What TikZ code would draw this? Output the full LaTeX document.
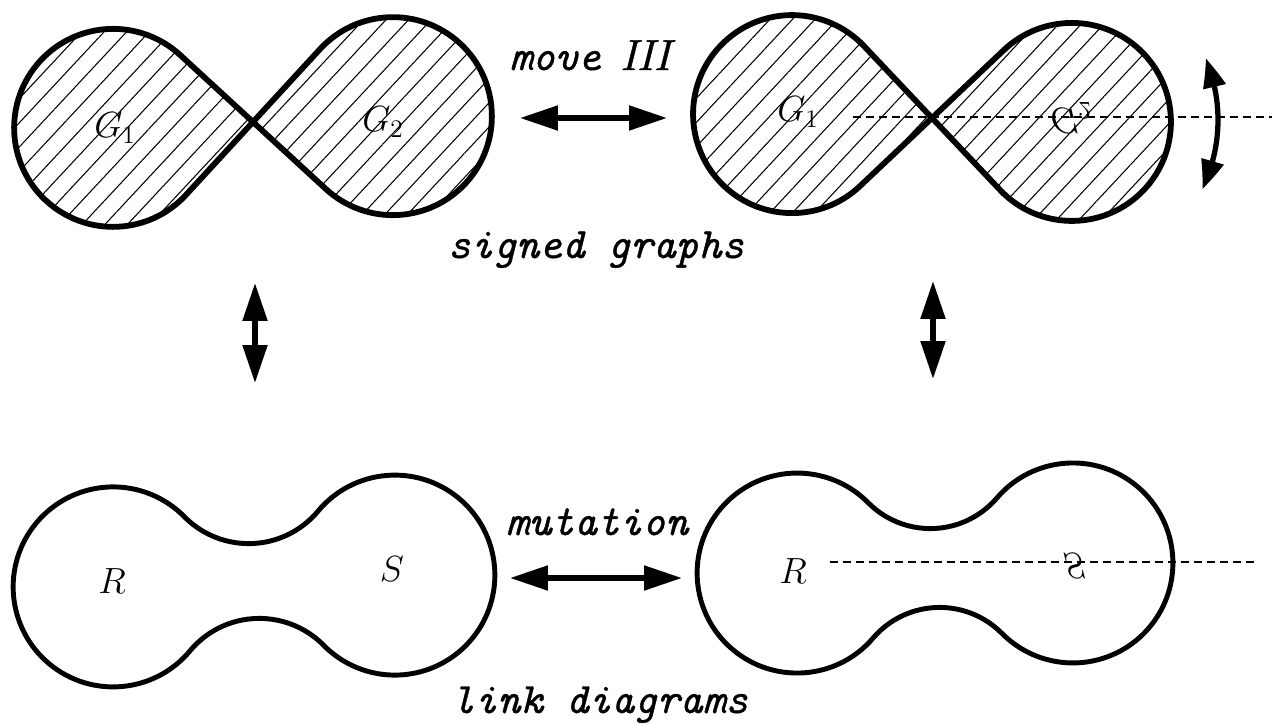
\documentclass[tikz,border=0pt]{standalone}
\usepackage{fontspec}
\usetikzlibrary{arrows.meta,bending,patterns.meta}
\newfontfamily\capfont{lmmono10-italic.otf}[FakeBold=0.9]
\newfontfamily\capromfont{lmroman10-italic.otf}[FakeBold=0.9]
\newcommand{\eightfig}[4]{% crossing x, y, rotation, lobe radius
  \begin{scope}[shift={(#1,#2)},rotate=#3]
    \pgfmathsetmacro{\ek}{#4/sqrt(2)}
    \path[eightline] (-\ek,\ek) arc[start angle=45,end angle=315,radius=#4]
      -- (\ek,\ek) arc[start angle=135,end angle=-135,radius=#4] -- cycle;
  \end{scope}}
\newcommand{\dumbbell}[6]{% centre x, y, rotation, half distance, lobe radius, neck half width
  \begin{scope}[shift={(#1,#2)},rotate=#3]
    \pgfmathsetmacro{\dbrho}{(#4/100*#4+#6/100*#6-#5/100*#5)/(2*(#5-#6))*100}
    \pgfmathsetmacro{\dbh}{\dbrho+#6}
    \pgfmathsetmacro{\dbphi}{atan(\dbh/#4)}
    \draw[linkline] ({#4-#5*cos(\dbphi)},{#5*sin(\dbphi)})
      arc[start angle=180-\dbphi, end angle=-180+\dbphi, radius=#5]
      arc[start angle=\dbphi, end angle=180-\dbphi, radius=\dbrho]
      arc[start angle=-\dbphi, end angle=-360+\dbphi, radius=#5]
      arc[start angle=-180+\dbphi, end angle=-\dbphi, radius=\dbrho] -- cycle;
  \end{scope}}
\begin{document}
\begin{tikzpicture}[x=0.02cm,y=0.02cm,
  lab/.style={font=\fontsize{24.7}{28}\selectfont\capfont, inner sep=0pt, anchor=base},
  mlab/.style={font=\fontsize{20}{24}\selectfont, inner sep=0pt},
  eightline/.style={draw, line width=3.3pt, line join=round,
    pattern={Lines[angle=47,distance=0.33cm,line width=0.6pt]}},
  linkline/.style={line width=2.8pt, line join=round},
  dbl/.style={line width=3pt, {Triangle[length=0.76cm,width=0.48cm]}-{Triangle[length=0.76cm,width=0.48cm]}},
  curvarrow/.style={line width=3pt, {Triangle[bend,length=0.6cm,width=0.44cm]}-{Triangle[bend,length=0.6cm,width=0.44cm]}},
  axisline/.style={line width=0.9pt, dash pattern=on 0.16cm off 0.1cm},
]
\useasboundingbox (0,0) rectangle (1272,-724);

% signed graphs
\eightfig{253}{-122}{2.4}{99}
\eightfig{932}{-118}{-1.6}{99}

% link diagrams
\dumbbell{254}{-581}{2.4}{141}{100}{37.5}
\dumbbell{935}{-568}{2.1}{138}{100}{39.5}

% axes of the half turn
\coordinate (axTa) at (853,-117);
\coordinate (axTb) at (1272,-117);
\coordinate (axBa) at (830,-562);
\coordinate (axBb) at (1258,-562);
\draw[axisline] (axTa) -- (axTb);
\draw[axisline] (axBa) -- (axBb);

% region labels
\node[mlab] (g1a) at (115,-128) {$G_1$};
\node[mlab] (g2a) at (383,-122) {$G_2$};
\node[mlab] (g1b) at (798,-112) {$G_1$};
\node[mlab, yscale=-1, transform shape] (g2b) at (1071,-118) {$G_2$};
\node[mlab] (ra) at (112,-581) {$R$};
\node[mlab] (sa) at (392,-569) {$S$};
\node[mlab] (rb) at (793,-571) {$R$};
\node[mlab, yscale=-1, transform shape] (sb) at (1074,-566) {$S$};

% captions
\node[lab] (move) at (590,-70) {move\hspace{0.45em}{\capromfont III}};
\node[lab] (sg) at (596,-258) {signed graphs};
\node[lab] (mut) at (597,-535) {mutation};
\node[lab] (ld) at (600,-713) {link diagrams};

% arrows
\coordinate (hta) at (520,-118);
\coordinate (htb) at (667,-118);
\coordinate (hba) at (510,-578);
\coordinate (hbb) at (682,-578);
\coordinate (vla) at (255,-283);
\coordinate (vlb) at (255,-383);
\coordinate (vra) at (933,-281);
\coordinate (vrb) at (933,-379);
\draw[dbl] (hta) -- (htb);
\draw[dbl] (hba) -- (hbb);
\draw[dbl] (vla) -- (vlb);
\draw[dbl] (vra) -- (vrb);

% rotation arrow
\coordinate (rc) at (1060,-120);
\draw[curvarrow] (rc) ++(-26:158) arc[start angle=-26, end angle=23, radius=158];
\end{tikzpicture}
\end{document}
